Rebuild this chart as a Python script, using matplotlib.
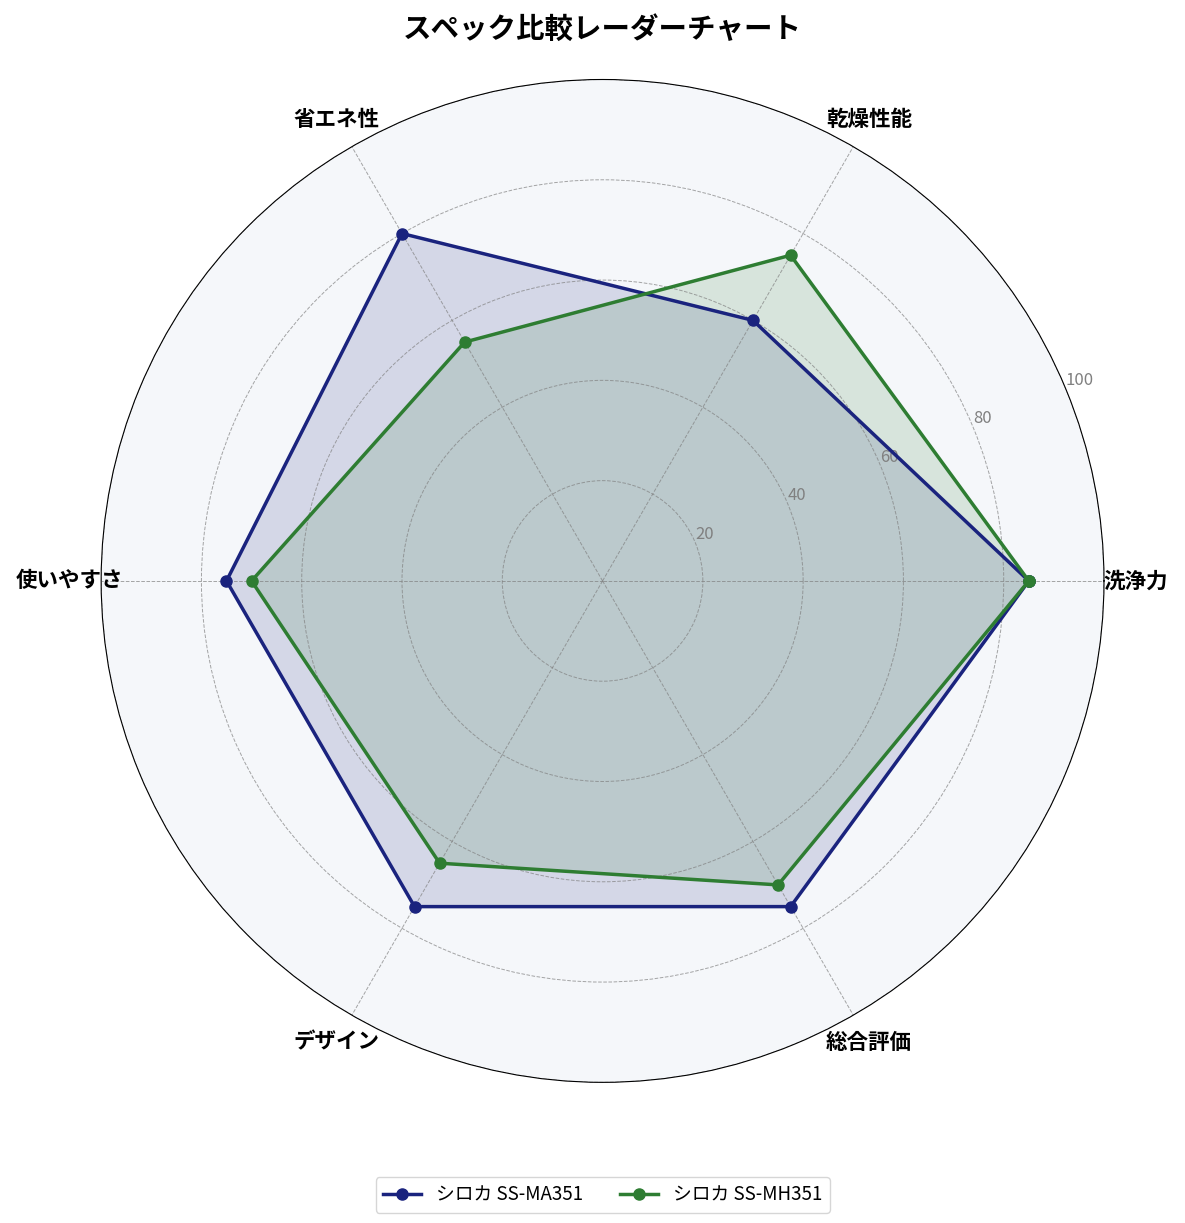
import matplotlib
matplotlib.use("Agg")
import matplotlib.pyplot as plt
import numpy as np

plt.rcParams['font.family'] = ['Noto Sans CJK JP', 'DejaVu Sans']

categories = ['洗浄力', '乾燥性能', '省エネ性', '使いやすさ', 'デザイン', '総合評価']
series_names = ['シロカ SS-MA351', 'シロカ SS-MH351']
values_ma = [85, 60, 80, 75, 75, 75]
values_mh = [85, 75, 55, 70, 65, 70]
colors = ['#1a237e', '#2e7d32']
r_ticks = [20, 40, 60, 80, 100]

n = len(categories)
angles = np.linspace(0, 2 * np.pi, n, endpoint=False).tolist()
angles_closed = angles + angles[:1]

fig = plt.figure(figsize=(11.85, 12.23), dpi=100)
ax = fig.add_axes([0.085, 0.115, 0.847, 0.82], polar=True)
ax.set_facecolor('#f5f7fa')

for vals, name, c in zip([values_ma, values_mh], series_names, colors):
    v = vals + vals[:1]
    ax.plot(angles_closed, v, color=c, linewidth=2.5, marker='o', markersize=8, label=name)
    ax.fill(angles_closed, v, color=c, alpha=0.15)

ax.set_ylim(0, 100)
ax.set_yticks(r_ticks)
ax.set_yticklabels([str(t) for t in r_ticks], color='gray', fontsize=12)
ax.set_rlabel_position(22.5)
ax.set_xticks(angles)
ax.set_xticklabels(categories, fontsize=15.5, fontweight='bold')
ax.tick_params(axis='x', pad=12)
ax.grid(color='gray', linestyle='--', linewidth=0.7, alpha=0.7)

ax.set_title('スペック比較レーダーチャート', fontsize=20.5, fontweight='bold', pad=30)
ax.legend(loc='upper center', bbox_to_anchor=(0.5, -0.085), ncol=2, fontsize=13.5)

fig.savefig('out.png', dpi=100)
